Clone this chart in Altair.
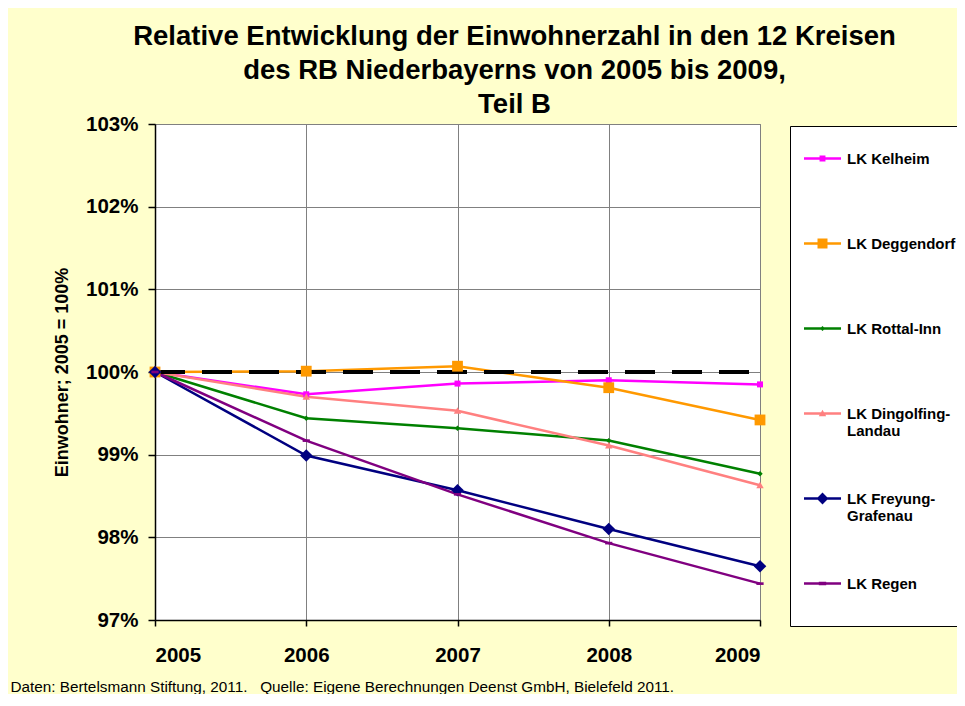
import altair as alt
import pandas as pd

# ---------------- data ----------------
years = [2005, 2006, 2007, 2008, 2009]
series_names = [
    "LK Kelheim",
    "LK Deggendorf",
    "LK Rottal-Inn",
    "LK Dingolfing-Landau",
    "LK Freyung-Grafenau",
    "LK Regen",
]
kelheim = [100.0, 99.73, 99.86, 99.90, 99.85]
deggendorf = [100.0, 100.01, 100.07, 99.81, 99.42]
rottal_inn = [100.0, 99.44, 99.32, 99.17, 98.77]
dingolfing_landau = [100.0, 99.70, 99.53, 99.11, 98.63]
freyung_grafenau = [100.0, 98.99, 98.57, 98.10, 97.65]
regen = [100.0, 99.17, 98.52, 97.93, 97.44]
reference_pct = 100
y_ticks = [97, 98, 99, 100, 101, 102, 103]

title_lines = [
    "Relative Entwicklung der Einwohnerzahl in den 12 Kreisen",
    "des RB Niederbayerns von 2005 bis 2009,",
    "Teil B",
]
y_title = "Einwohner; 2005 = 100%"
footer = "Daten: Bertelsmann Stiftung, 2011.\u00a0\u00a0\u00a0Quelle: Eigene Berechnungen Deenst GmbH, Bielefeld 2011."
legend_label_lines = {
    "LK Dingolfing-Landau": ["LK Dingolfing-", "Landau"],
    "LK Freyung-Grafenau": ["LK Freyung-", "Grafenau"],
}

# ---------------- styles ----------------
colors = ["#FF00FF", "#FF9900", "#008000", "#FF8080", "#000080", "#800080"]
plot_marker_paths = [
    "M-0.5,-0.5H0.5V0.5H-0.5Z",
    "M-0.9,-0.9H0.9V0.9H-0.9Z",
    "M0,-0.45L0.45,0L0,0.45L-0.45,0Z",
    "M0,-0.6L0.62,0.5H-0.62Z",
    "M0,-1.05L1.05,0L0,1.05L-1.05,0Z",
    "M-0.6,-0.22H0.6V0.22H-0.6Z",
]
# legend symbols: a short line + the marker; a zero-area stroke keeps rows equally tall
legend_line = "M0,-1.2V1.5M-1,-0.07H1V0.07H-1Z"
legend_paths = [
    legend_line + "M-0.16,-0.16H0.16V0.16H-0.16Z",
    legend_line + "M-0.27,-0.27H0.27V0.27H-0.27Z",
    legend_line + "M0,-0.14L0.14,0L0,0.14L-0.14,0Z",
    legend_line + "M0,-0.2L0.2,0.15H-0.2Z",
    legend_line + "M0,-0.32L0.32,0L0,0.32L-0.32,0Z",
    legend_line + "M-0.2,-0.1H0.2V0.1H-0.2Z",
]
FONT = "Liberation Sans"

# ---------------- table ----------------
values_by_series = [kelheim, deggendorf, rottal_inn, dingolfing_landau, freyung_grafenau, regen]
rows = []
for name, vals in zip(series_names, values_by_series):
    for yr, v in zip(years, vals):
        rows.append({"series": name, "year": yr, "value": v})
df = pd.DataFrame(rows)
ref_df = pd.DataFrame({"x": [years[0]], "x2": [years[-1]], "y": [reference_pct]})

label_expr = "datum.label"
for k, lines in legend_label_lines.items():
    arr = "[" + ", ".join("'" + s + "'" for s in lines) + "]"
    label_expr = f"datum.label == '{k}' ? {arr} : " + label_expr

color_scale = alt.Scale(domain=series_names, range=colors)

x_enc = alt.X(
    "year:Q",
    scale=alt.Scale(domain=[years[0], years[-1]], nice=False, zero=False),
    axis=alt.Axis(
        values=years,
        format="d",
        title=footer,
        titleX=-145,
        titleY=71,
        titleAlign="left",
        titleBaseline="alphabetic",
        titleFontWeight="normal",
        titleFontSize=15.3,
        titleAngle=0,
        tickSize=6,
        labelPadding=19,
    ),
)
y_enc = alt.Y(
    "value:Q",
    scale=alt.Scale(domain=[y_ticks[0], y_ticks[-1]], nice=False, zero=False),
    axis=alt.Axis(
        values=y_ticks,
        labelExpr="datum.value + '%'",
        title=y_title,
        titleX=-93,
        titleY=248,
        titleAngle=270,
        titleAlign="center",
        titleBaseline="middle",
        titleFontSize=18,
        titleFontWeight="bold",
        tickSize=7,
        labelPadding=10,
    ),
)

base = alt.Chart(df)

legend_props = dict(
    title=None,
    orient="none",
    legendX=635,
    legendY=2,
    padding=14,
    rowPadding=34,
    fillColor="white",
    strokeColor="black",
    symbolSize=1369,
    symbolStrokeWidth=0,
    symbolOpacity=1,
    labelFont=FONT,
    labelFontSize=15,
    labelFontWeight="bold",
    labelColor="black",
    labelOffset=6,
    labelLimit=300,
    labelBaseline="middle",
    labelExpr=label_expr,
)

# invisible layer that only carries the legend (line + marker symbols)
legend_layer = base.mark_point(filled=True, size=0, opacity=1).encode(
    x=x_enc, y=y_enc,
    color=alt.Color("series:N", scale=color_scale, legend=alt.Legend(**legend_props)),
    shape=alt.Shape("series:N", scale=alt.Scale(domain=series_names, range=legend_paths),
                    legend=alt.Legend(**legend_props)),
)

lines = base.mark_line(strokeWidth=2.5).encode(
    x=x_enc, y=y_enc,
    color=alt.Color("series:N", scale=color_scale, legend=None),
)

ref = alt.Chart(ref_df).mark_rule(color="black", strokeWidth=4, strokeDash=[30, 17]).encode(
    x="x:Q", x2="x2:Q", y="y:Q"
)

markers = []
for name, path in zip(series_names, plot_marker_paths):
    markers.append(
        base.transform_filter(alt.datum.series == name)
        .mark_point(shape=path, size=144, filled=True, opacity=1, strokeWidth=0)
        .encode(x=x_enc, y=y_enc, color=alt.Color("series:N", scale=color_scale, legend=None))
    )

chart = alt.layer(legend_layer, lines, ref, *markers).properties(
    width=605,
    height=496,
    autosize=alt.AutoSizeParams(type="none"),
    padding={"left": 147, "top": 116, "right": 197, "bottom": 74},
    title=alt.TitleParams(
        text=title_lines,
        font=FONT,
        fontSize=27.5,
        fontWeight="bold",
        lineHeight=34,
        anchor="middle",
        frame="group",
        dx=57,
        dy=4,
        offset=0,
        color="black",
    ),
).configure(
    background="#FFFFCC",
).configure_view(
    fill="white", stroke="#808080", strokeWidth=1,
).configure_axis(
    labelFont=FONT,
    labelFontSize=20.5,
    labelFontWeight="bold",
    labelColor="black",
    titleFont=FONT,
    titleColor="black",
    domainColor="black",
    domainWidth=1.5,
    tickColor="black",
    tickWidth=1.5,
    grid=True,
    gridColor="#808080",
    gridWidth=1,
)

chart.save("out.html", embed_options={"renderer": "svg", "actions": False})
